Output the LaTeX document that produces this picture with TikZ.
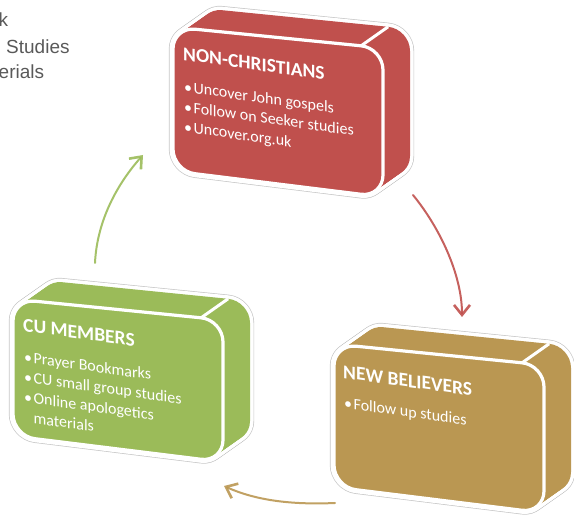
\documentclass[tikz,border=0pt]{standalone}
\usepackage{fontspec}
\setmainfont{Carlito}
\newfontfamily\notefont{Liberation Sans}
\usetikzlibrary{arrows.meta}
\definecolor{redbox}{HTML}{C0504D}
\definecolor{greenbox}{HTML}{9BBB59}
\definecolor{goldbox}{HTML}{BA9752}
\definecolor{notegray}{HTML}{595959}
\tikzset{
  slabedge/.style={draw=black!22, line width=8.4pt, line join=round},
  slabrim/.style={draw=white, line width=7pt, line join=round},
  slabface/.style={draw=white, line width=3.2pt},
  slabtitle/.style={anchor=base west, text=white, inner sep=0pt, yslant=-0.14,
    font=\bfseries\fontsize{19.5}{22}\selectfont},
  slabitems/.style={anchor=base west, text=white, inner sep=0pt, yslant=-0.14,
    font=\fontsize{16}{20}\selectfont},
  cyclearrow/.style={line width=2pt, line cap=round, opacity=0.9,
    -{Straight Barb[length=10pt,width=16pt,line width=2.6pt]}},
  note/.style={anchor=base west, text=notegray, inner sep=0pt,
    font=\notefont\fontsize{19}{22}\selectfont},
}
% #1 shift, #2 left height of front face, #3 colour
\newcommand\drawslab[3]{%
  \begin{scope}[shift={#1}]
    \pgfmathsetmacro\slabH{#2}
    \pgfmathsetmacro\slabHR{#2+26}
    \pgfmathsetmacro\slabHM{#2/2}
    \foreach \k in {0,...,16}{%
      \draw[slabedge, rounded corners=22pt, shift={(27*\k/16,-19*\k/16)}]
        (0,\slabHM) -- (0,0) -- (210,21) -- (210,\slabHR) -- (0,\slabH) -- cycle;}
    \foreach \k in {0,...,16}{%
      \draw[slabrim, rounded corners=22pt, shift={(27*\k/16,-19*\k/16)}]
        (0,\slabHM) -- (0,0) -- (210,21) -- (210,\slabHR) -- (0,\slabH) -- cycle;}
    \foreach \k in {0,...,16}{%
      \fill[#3, rounded corners=22pt, shift={(27*\k/16,-19*\k/16)}]
        (0,\slabHM) -- (0,0) -- (210,21) -- (210,\slabHR) -- (0,\slabH) -- cycle;}
    \draw[slabface, fill=#3, rounded corners=22pt]
      (0,\slabHM) -- (0,0) -- (210,21) -- (210,\slabHR) -- (0,\slabH) -- cycle;
    \draw[white, line width=3pt] (188.1,18.8) -- (215.1,-0.2);
  \end{scope}}
\begin{document}
\begin{tikzpicture}[x=1pt,y=-1pt]
\useasboundingbox (0,0) rectangle (574,521);

% cut-off note text at top left
\node[note] (n1) at (-1.5,27) {k};
\node[note] (n2) at (6,54) {Studies};
\node[note] (n3) at (-1.5,79) {erials};

% boxes
\drawslab{(173,27)}{144}{redbox}
\drawslab{(13,299)}{137}{greenbox}
\drawslab{(334,344)}{143}{goldbox}

% texts
\node[slabtitle] (t1) at (183,60) {NON-CHRISTIANS};
\node[slabitems] (i1) at (184,92) {\begin{tabular}[t]{@{}l@{}}•\hspace{1.5pt}Uncover John gospels\\ •\hspace{1.5pt}Follow on Seeker studies\\ •\hspace{1.5pt}Uncover.org.uk\end{tabular}};

\node[slabtitle] (t2) at (23,331) {CU MEMBERS};
\node[slabitems] (i2) at (24,362) {\begin{tabular}[t]{@{}l@{}}•\hspace{1.5pt}Prayer Bookmarks\\ •\hspace{1.5pt}CU small group studies\\ •\hspace{1.5pt}Online apologetics\\ \phantom{•\hspace{1.5pt}}materials\end{tabular}};

\node[slabtitle] (t3) at (343,378) {NEW BELIEVERS};
\node[slabitems] (i3) at (344,408) {\begin{tabular}[t]{@{}l@{}}•\hspace{1.5pt}Follow up studies\end{tabular}};

% cycle arrows
\coordinate (r0) at (413,195);
\coordinate (r1) at (462,317);
\coordinate (g0) at (95,263);
\coordinate (g1) at (143,155);
\coordinate (b0) at (335,503);
\coordinate (b1) at (224,486);
\draw[cyclearrow, draw=redbox] (r0) .. controls (440,228) and (462,275) .. (r1);
\draw[cyclearrow, draw=greenbox] (g0) .. controls (97,220) and (118,183) .. (g1);
\draw[cyclearrow, draw=goldbox] (b0) .. controls (290,505) and (255,500) .. (b1);
\end{tikzpicture}
\end{document}
